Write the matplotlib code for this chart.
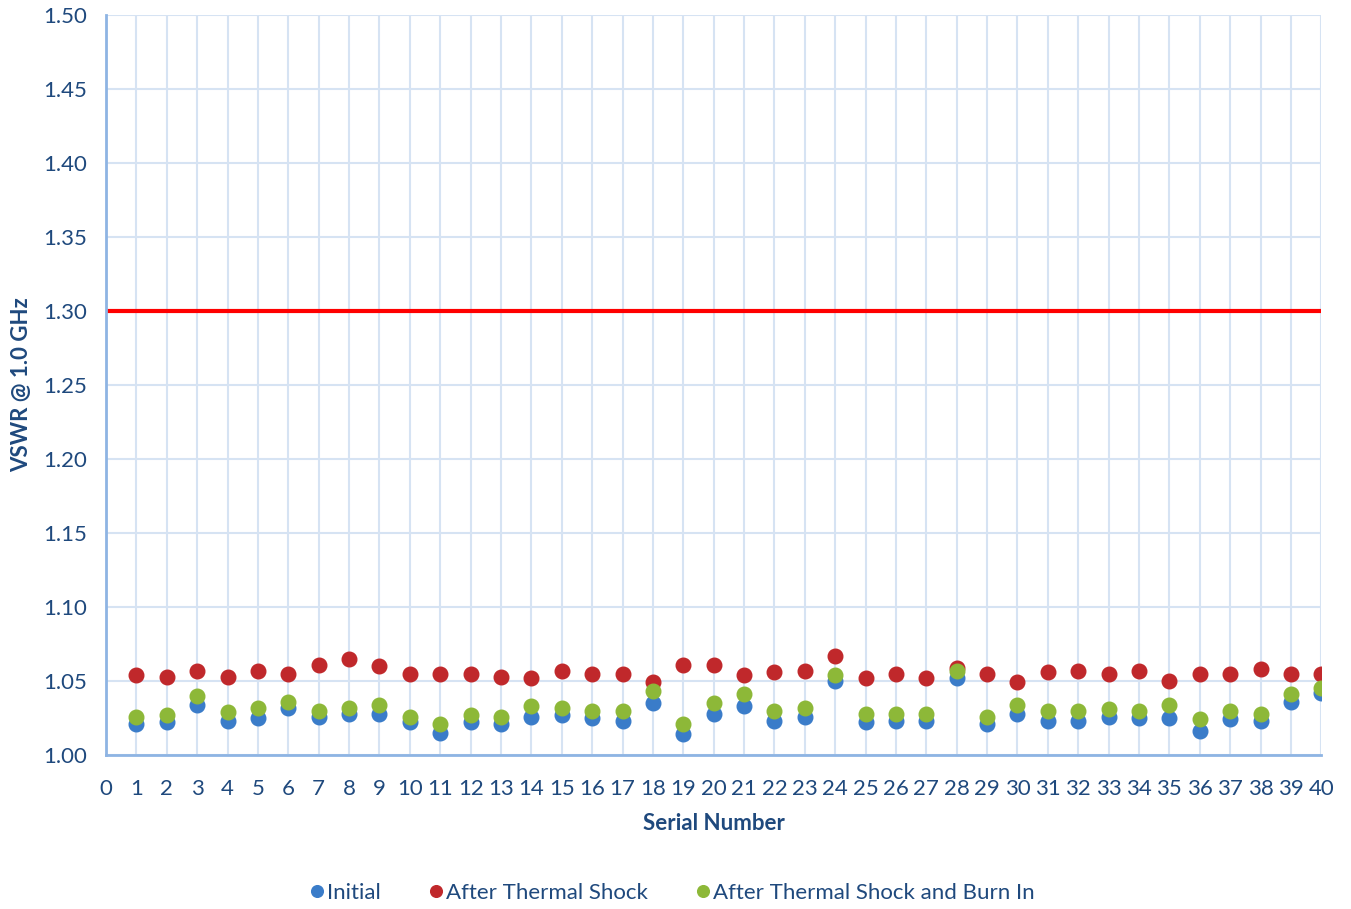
import matplotlib
matplotlib.use("Agg")
import matplotlib.pyplot as plt

plt.rcParams['font.family'] = ['Lato', 'DejaVu Sans']

serial = list(range(1, 41))

initial = [1.021, 1.022, 1.034, 1.023, 1.025, 1.032, 1.026, 1.028, 1.028, 1.022,
           1.015, 1.022, 1.021, 1.026, 1.027, 1.025, 1.023, 1.035, 1.014, 1.028,
           1.033, 1.023, 1.026, 1.050, 1.022, 1.023, 1.023, 1.052, 1.021, 1.028,
           1.023, 1.023, 1.026, 1.025, 1.025, 1.016, 1.024, 1.023, 1.036, 1.042]

thermal_shock = [1.054, 1.053, 1.057, 1.053, 1.057, 1.055, 1.061, 1.065, 1.060, 1.055,
                 1.055, 1.055, 1.053, 1.052, 1.057, 1.055, 1.055, 1.049, 1.061, 1.061,
                 1.054, 1.056, 1.057, 1.067, 1.052, 1.055, 1.052, 1.059, 1.055, 1.049,
                 1.056, 1.057, 1.055, 1.057, 1.050, 1.055, 1.055, 1.058, 1.055, 1.055]

burn_in = [1.026, 1.027, 1.040, 1.029, 1.032, 1.036, 1.030, 1.032, 1.034, 1.026,
           1.021, 1.027, 1.026, 1.033, 1.032, 1.030, 1.030, 1.043, 1.021, 1.035,
           1.041, 1.030, 1.032, 1.054, 1.028, 1.028, 1.028, 1.057, 1.026, 1.034,
           1.030, 1.030, 1.031, 1.030, 1.034, 1.024, 1.030, 1.028, 1.041, 1.045]

limit = 1.30

text_color = '#1F497D'
grid_color = '#D6E3F3'
spine_color = '#8EB4E3'

fig = plt.figure(figsize=(13.51, 9.09), dpi=100)
ax = fig.add_axes([0.0785, 0.1694, 0.8995, 0.8141])

ax.axhline(limit, color='#FF0000', linewidth=3, zorder=2)

ax.plot(serial, initial, 'o', color='#3A7CC9', markersize=10.5, label='Initial', zorder=3)
ax.plot(serial, thermal_shock, 'o', color='#C0282B', markersize=10.5, label='After Thermal Shock', zorder=3)
ax.plot(serial, burn_in, 'o', color='#8DB838', markersize=10.5, label='After Thermal Shock and Burn In', zorder=4)

ax.set_xlim(0, 40)
ax.set_ylim(1.00, 1.50)
ax.set_xticks(range(0, 41))
ax.set_yticks([1.00 + 0.05 * i for i in range(11)])
ax.set_yticklabels([f'{1.00 + 0.05 * i:.2f}' for i in range(11)])

ax.grid(True, color=grid_color, linewidth=1.5, zorder=0)
ax.set_axisbelow(True)
for side in ['top', 'right']:
    ax.spines[side].set_visible(False)
for side in ['left', 'bottom']:
    ax.spines[side].set_color(spine_color)
    ax.spines[side].set_linewidth(2)

ax.tick_params(axis='both', length=0, labelsize=16, labelcolor=text_color)
ax.tick_params(axis='y', pad=14)
ax.tick_params(axis='x', pad=17)

ax.set_xlabel('Serial Number', fontsize=16, fontweight='bold', color=text_color)
ax.set_ylabel('VSWR @ 1.0 GHz', fontsize=16, fontweight='bold', color=text_color)
ax.xaxis.set_label_coords(0.5, -0.079)
ax.yaxis.set_label_coords(-0.061, 0.5)

fig.legend(loc='center', bbox_to_anchor=(0.497, 0.0175), ncol=3, frameon=False,
           fontsize=16, labelcolor=text_color, handletextpad=0.05, handlelength=0.8,
           columnspacing=2.1, markerscale=0.8, borderaxespad=0)

fig.savefig('out.png', dpi=100)
